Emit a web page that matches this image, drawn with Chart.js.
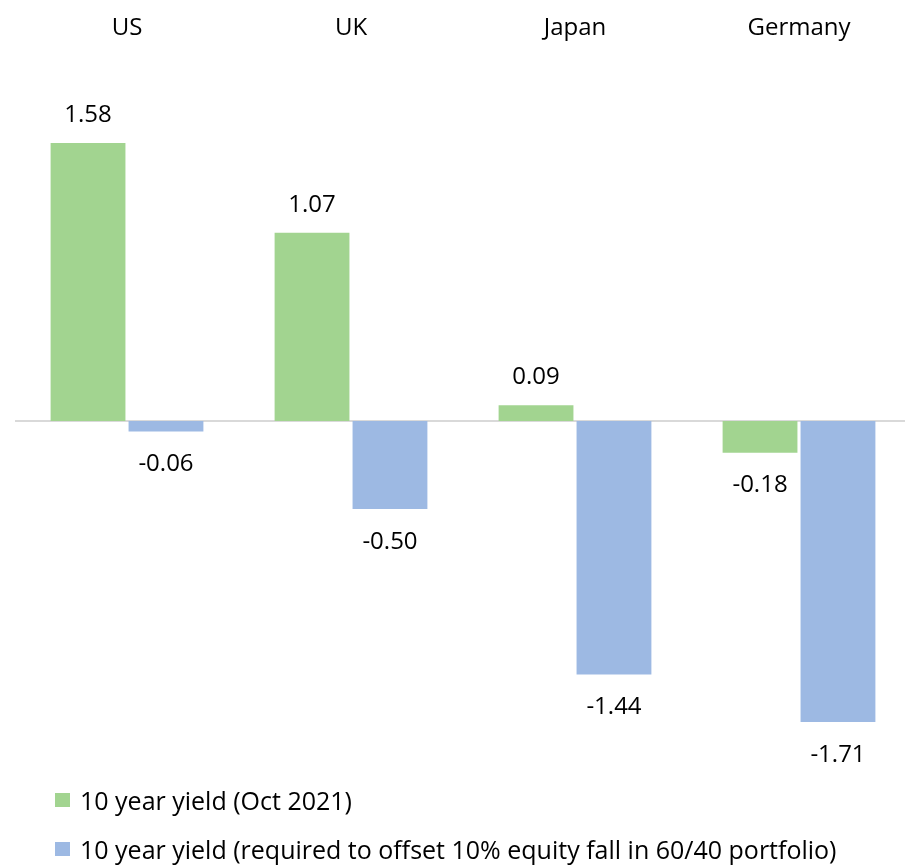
<!DOCTYPE html>
<html>
<head>
<meta charset="utf-8">
<script src="https://cdn.jsdelivr.net/npm/chart.js@4"></script>
<style>
  html, body { margin: 0; padding: 0; background: #fff; }
  #wrap { position: relative; width: 905px; height: 865px; overflow: hidden; }
  #wrap canvas { position: absolute; left: 0; top: 0; }
  .legend { position: absolute; left: 55px; font-family: "Open Sans", sans-serif; font-size: 25px; line-height: 30px; color: #000; display: flex; align-items: center; white-space: nowrap; }
  .legend i { display: inline-block; width: 15px; height: 14px; margin-right: 10px; }
</style>
</head>
<body>
<div id="wrap">
  <canvas id="c" width="911" height="865"></canvas>
  <div class="legend" id="lg0" style="top:785px"><i></i><span></span></div>
  <div class="legend" id="lg1" style="top:834px"><i></i><span></span></div>
</div>
<script>
const categories = ["US", "UK", "Japan", "Germany"];
const seriesNames = [
  "10 year yield (Oct 2021)",
  "10 year yield (required to offset 10% equity fall in 60/40 portfolio)"
];
const yieldOct2021 = [1.58, 1.07, 0.09, -0.18];
const yieldRequired = [-0.06, -0.50, -1.44, -1.71];
const colors = ["#A2D490", "#9DB9E3"];

const FONT = "Open Sans";

// zero line, drawn under the bars
const zeroLine = {
  id: "zeroLine",
  beforeDatasetsDraw(chart) {
    const { ctx, chartArea, scales } = chart;
    const y = scales.y.getPixelForValue(0);
    ctx.save();
    ctx.strokeStyle = "#D9D9D9";
    ctx.lineWidth = 2;
    ctx.beginPath();
    ctx.moveTo(chartArea.left, y);
    ctx.lineTo(chartArea.right, y);
    ctx.stroke();
    ctx.restore();
  }
};

// category names along the top and value labels at the bar ends
const labelsPlugin = {
  id: "labelsPlugin",
  afterDatasetsDraw(chart) {
    const { ctx, scales } = chart;
    ctx.save();
    ctx.fillStyle = "#000";
    ctx.textAlign = "center";
    ctx.textBaseline = "middle";
    ctx.font = `24px "${FONT}"`;
    categories.forEach((c, i) => {
      ctx.fillText(c, scales.x.getPixelForValue(i), 28);
    });
    chart.data.datasets.forEach((ds, di) => {
      const meta = chart.getDatasetMeta(di);
      meta.data.forEach((bar, i) => {
        const v = ds.data[i];
        const y = v >= 0 ? bar.y - 28 : bar.y + 33;
        ctx.fillText(v.toFixed(2), bar.x, y);
      });
    });
    ctx.restore();
  }
};

new Chart(document.getElementById("c"), {
  type: "bar",
  data: {
    labels: categories,
    datasets: [
      { label: seriesNames[0], data: yieldOct2021, backgroundColor: colors[0] },
      { label: seriesNames[1], data: yieldRequired, backgroundColor: colors[1] }
    ]
  },
  options: {
    responsive: false,
    animation: false,
    layout: { padding: { left: 15, right: 0, top: 0, bottom: 0 } },
    datasets: { bar: { categoryPercentage: 0.696, barPercentage: 0.96 } },
    plugins: { legend: { display: false }, tooltip: { enabled: false } },
    scales: {
      x: { display: false, offset: true, grid: { display: false } },
      y: { display: false, min: -2.523, max: 2.392 }
    }
  },
  plugins: [zeroLine, labelsPlugin]
});

// legend rows
[0, 1].forEach(i => {
  const el = document.getElementById("lg" + i);
  el.querySelector("i").style.background = colors[i];
  el.querySelector("span").textContent = seriesNames[i];
});
</script>
</body>
</html>
